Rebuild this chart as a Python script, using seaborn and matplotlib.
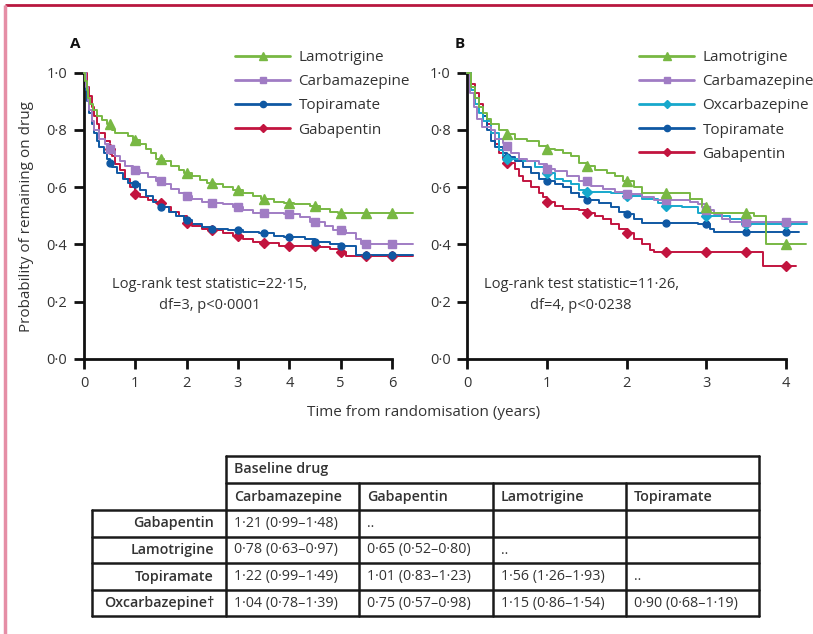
import numpy as np
import matplotlib
matplotlib.use("Agg")
import matplotlib.pyplot as plt
from matplotlib.lines import Line2D
import seaborn as sns
import pandas as pd

sns.set_theme(style="white")
plt.rcParams['font.family'] = ['Open Sans', 'DejaVu Sans']

# ---------------- data: panel A ----------------
a_lam_t = [0, 0.02, 0.05, 0.08, 0.12, 0.18, 0.25, 0.35, 0.45, 0.55, 0.6, 0.85, 0.95, 1.1, 1.2, 1.3, 1.4, 1.55, 1.7, 1.85, 1.95, 2.1, 2.25, 2.4, 2.55, 2.7, 2.9, 3.1, 3.3, 3.45, 3.7, 3.9, 4.1, 4.4, 4.6, 4.8, 4.95, 6.4]
a_lam_s = [1.0, 0.97, 0.94, 0.91, 0.89, 0.87, 0.85, 0.835, 0.82, 0.80, 0.79, 0.78, 0.765, 0.75, 0.735, 0.72, 0.70, 0.69, 0.675, 0.66, 0.65, 0.64, 0.625, 0.615, 0.61, 0.60, 0.59, 0.58, 0.57, 0.56, 0.55, 0.545, 0.54, 0.535, 0.525, 0.515, 0.51, 0.51]

a_carb_t = [0, 0.03, 0.07, 0.1, 0.15, 0.2, 0.3, 0.4, 0.5, 0.6, 0.7, 0.8, 0.95, 1.1, 1.25, 1.4, 1.55, 1.7, 1.85, 1.95, 2.1, 2.3, 2.5, 2.7, 2.9, 3.1, 3.3, 3.9, 4.2, 4.4, 4.7, 4.85, 5.1, 5.3, 5.4, 6.4]
a_carb_s = [1.0, 0.95, 0.90, 0.87, 0.83, 0.80, 0.77, 0.75, 0.735, 0.71, 0.69, 0.675, 0.66, 0.65, 0.635, 0.62, 0.61, 0.595, 0.58, 0.57, 0.56, 0.55, 0.545, 0.54, 0.53, 0.52, 0.51, 0.505, 0.495, 0.48, 0.465, 0.45, 0.44, 0.42, 0.40, 0.40]

a_top_t = [0, 0.03, 0.06, 0.1, 0.15, 0.2, 0.25, 0.3, 0.38, 0.45, 0.5, 0.55, 0.65, 0.75, 0.85, 1.0, 1.1, 1.2, 1.35, 1.5, 1.65, 1.8, 1.95, 2.1, 2.3, 2.5, 2.8, 3.1, 3.4, 3.7, 3.9, 4.3, 4.5, 4.8, 5.0, 5.3, 6.4]
a_top_s = [1.0, 0.94, 0.90, 0.86, 0.82, 0.79, 0.76, 0.74, 0.72, 0.70, 0.685, 0.67, 0.65, 0.63, 0.615, 0.61, 0.59, 0.57, 0.55, 0.53, 0.515, 0.50, 0.485, 0.47, 0.46, 0.455, 0.45, 0.445, 0.44, 0.43, 0.425, 0.42, 0.41, 0.40, 0.395, 0.365, 0.365]

a_gab_t = [0, 0.05, 0.1, 0.15, 0.2, 0.25, 0.3, 0.4, 0.5, 0.55, 0.6, 0.7, 0.8, 0.9, 1.0, 1.1, 1.25, 1.4, 1.55, 1.7, 1.85, 2.0, 2.1, 2.3, 2.5, 2.7, 2.9, 3.1, 3.3, 3.5, 3.8, 4.2, 4.6, 4.8, 5.0, 5.1, 6.4]
a_gab_s = [1.0, 0.95, 0.92, 0.88, 0.85, 0.82, 0.79, 0.76, 0.735, 0.71, 0.68, 0.66, 0.63, 0.60, 0.575, 0.565, 0.555, 0.545, 0.53, 0.515, 0.50, 0.475, 0.465, 0.455, 0.45, 0.44, 0.43, 0.42, 0.41, 0.405, 0.395, 0.393, 0.39, 0.385, 0.375, 0.36, 0.36]

# ---------------- data: panel B ----------------
b_lam_t = [0, 0.05, 0.1, 0.15, 0.2, 0.25, 0.3, 0.4, 0.5, 0.6, 0.75, 0.9, 1.0, 1.1, 1.2, 1.3, 1.4, 1.5, 1.6, 1.75, 1.85, 1.95, 2.1, 2.2, 2.8, 2.95, 3.05, 3.6, 3.75, 4.25]
b_lam_s = [1.0, 0.95, 0.91, 0.88, 0.86, 0.84, 0.82, 0.80, 0.785, 0.77, 0.76, 0.745, 0.735, 0.73, 0.72, 0.71, 0.685, 0.675, 0.66, 0.65, 0.64, 0.62, 0.60, 0.58, 0.56, 0.53, 0.51, 0.50, 0.40, 0.40]

b_carb_t = [0, 0.04, 0.08, 0.12, 0.18, 0.3, 0.35, 0.45, 0.5, 0.55, 0.65, 0.75, 0.9, 1.0, 1.1, 1.25, 1.4, 1.55, 1.7, 1.85, 2.0, 2.2, 2.35, 2.8, 2.9, 3.0, 3.1, 3.2, 3.3, 4.27]
b_carb_s = [1.0, 0.93, 0.88, 0.84, 0.81, 0.80, 0.77, 0.755, 0.745, 0.72, 0.70, 0.69, 0.68, 0.665, 0.655, 0.64, 0.62, 0.605, 0.595, 0.585, 0.575, 0.565, 0.555, 0.55, 0.54, 0.52, 0.505, 0.49, 0.48, 0.48]

b_oxc_t = [0, 0.05, 0.1, 0.15, 0.2, 0.3, 0.4, 0.45, 0.5, 0.7, 0.85, 1.0, 1.1, 1.2, 1.3, 1.4, 1.5, 1.8, 2.0, 2.2, 2.4, 2.5, 2.7, 2.9, 3.0, 3.3, 3.45, 4.27]
b_oxc_s = [1.0, 0.94, 0.89, 0.86, 0.83, 0.79, 0.73, 0.71, 0.70, 0.69, 0.67, 0.65, 0.63, 0.62, 0.61, 0.59, 0.585, 0.58, 0.57, 0.56, 0.545, 0.535, 0.53, 0.51, 0.50, 0.49, 0.47, 0.47]

b_top_t = [0, 0.05, 0.1, 0.15, 0.2, 0.25, 0.3, 0.35, 0.45, 0.5, 0.6, 0.7, 0.8, 0.9, 1.0, 1.1, 1.2, 1.3, 1.4, 1.5, 1.65, 1.8, 1.9, 2.0, 2.1, 2.2, 2.9, 3.05, 3.1, 4.17]
b_top_s = [1.0, 0.95, 0.91, 0.88, 0.85, 0.80, 0.76, 0.74, 0.72, 0.705, 0.69, 0.67, 0.65, 0.63, 0.62, 0.61, 0.60, 0.58, 0.565, 0.555, 0.545, 0.53, 0.515, 0.505, 0.49, 0.475, 0.47, 0.455, 0.445, 0.445]

b_gab_t = [0, 0.05, 0.1, 0.15, 0.2, 0.25, 0.3, 0.35, 0.4, 0.45, 0.5, 0.6, 0.65, 0.7, 0.8, 0.9, 0.95, 1.0, 1.1, 1.2, 1.4, 1.5, 1.6, 1.7, 1.8, 1.9, 2.0, 2.1, 2.2, 2.3, 2.35, 3.72, 4.13]
b_gab_s = [1.0, 0.96, 0.93, 0.89, 0.85, 0.82, 0.79, 0.75, 0.72, 0.70, 0.685, 0.665, 0.64, 0.62, 0.60, 0.58, 0.565, 0.55, 0.535, 0.525, 0.52, 0.51, 0.50, 0.49, 0.47, 0.455, 0.44, 0.42, 0.40, 0.38, 0.375, 0.325, 0.325]

a_marker_times = [0.5, 1, 1.5, 2, 2.5, 3, 3.5, 4, 4.5, 5, 5.5, 6]
b_marker_times = [0.5, 1, 1.5, 2, 2.5, 3, 3.5, 4]

# ---------------- table data ----------------
table_title = "Baseline drug"
col_labels = ["Carbamazepine", "Gabapentin", "Lamotrigine", "Topiramate"]
row_labels = ["Gabapentin", "Lamotrigine", "Topiramate", "Oxcarbazepine\u2020"]
cell_text = [
    ["1\u00b721 (0\u00b799\u20131\u00b748)", "..", "", ""],
    ["0\u00b778 (0\u00b763\u20130\u00b797)", "0\u00b765 (0\u00b752\u20130\u00b780)", "..", ""],
    ["1\u00b722 (0\u00b799\u20131\u00b749)", "1\u00b701 (0\u00b783\u20131\u00b723)", "1\u00b756 (1\u00b726\u20131\u00b793)", ".."],
    ["1\u00b704 (0\u00b778\u20131\u00b739)", "0\u00b775 (0\u00b757\u20130\u00b798)", "1\u00b715 (0\u00b786\u20131\u00b754)", "0\u00b790 (0\u00b768\u20131\u00b719)"],
]

ytick_vals = [0, 0.2, 0.4, 0.6, 0.8, 1.0]
ytick_labels = ["0\u00b70", "0\u00b72", "0\u00b74", "0\u00b76", "0\u00b78", "1\u00b70"]

# ---------------- styles ----------------
C_LAM = "#78b843"
C_CARB = "#a07cc4"
C_OXC = "#17a8cc"
C_TOP = "#0f58a3"
C_GAB = "#c2143f"
TXT = "#333333"

series_A = [
    ("Lamotrigine", a_lam_t, a_lam_s, C_LAM, "^"),
    ("Carbamazepine", a_carb_t, a_carb_s, C_CARB, "s"),
    ("Topiramate", a_top_t, a_top_s, C_TOP, "o"),
    ("Gabapentin", a_gab_t, a_gab_s, C_GAB, "D"),
]
series_B = [
    ("Lamotrigine", b_lam_t, b_lam_s, C_LAM, "^"),
    ("Carbamazepine", b_carb_t, b_carb_s, C_CARB, "s"),
    ("Oxcarbazepine", b_oxc_t, b_oxc_s, C_OXC, "D"),
    ("Topiramate", b_top_t, b_top_s, C_TOP, "o"),
    ("Gabapentin", b_gab_t, b_gab_s, C_GAB, "D"),
]
msize = {"^": 6.5, "s": 5.2, "o": 5.0, "D": 4.6}

W, H = 813, 634
fig = plt.figure(figsize=(W / 100, H / 100), dpi=100)


def fx(px):
    return px / W


def fy(py):
    return 1 - py / H


def step_value(t, s, q):
    t = np.asarray(t); s = np.asarray(s)
    idx = np.searchsorted(t, q, side="right") - 1
    return s[idx]


def draw_panel(ax, series, mtimes, xmax, xticks, label, legend_x, ann_text, ann_x):
    for name, t, s, col, mk in series[::-1]:
        df = pd.DataFrame({"t": t, "s": s})
        sns.lineplot(data=df, x="t", y="s", ax=ax, color=col, lw=1.4,
                     drawstyle="steps-post", clip_on=False, sort=False,
                     estimator=None, zorder=3)
        mv = step_value(t, s, mtimes)
        ax.plot(mtimes, mv, ls="none", marker=mk, ms=msize[mk], color=col,
                mec=col, clip_on=False, zorder=4)
    ax.set_xlim(0, xmax)
    ax.set_ylim(0, 1)
    ax.set_xticks(xticks)
    ax.set_xticklabels([str(v) for v in xticks])
    ax.set_yticks(ytick_vals)
    ax.set_yticklabels(ytick_labels)
    ax.set_xlabel("")
    ax.set_ylabel("")
    for sp in ["top", "right"]:
        ax.spines[sp].set_visible(False)
    for sp in ["left", "bottom"]:
        ax.spines[sp].set_color("#111111")
        ax.spines[sp].set_linewidth(2)
    ax.tick_params(axis="both", direction="out", length=7, width=2,
                   color="#111111", labelsize=10.5, labelcolor=TXT, pad=5,
                   left=True, bottom=True)
    handles = [Line2D([], [], color=c, lw=2.0, marker=m, ms=msize[m] * 0.9)
               for _, _, _, c, m in series]
    labels = [n for n, _, _, _, _ in series]
    ax.legend(handles, labels, loc="upper left",
              bbox_to_anchor=(fx(legend_x), fy(50)), bbox_transform=fig.transFigure,
              frameon=False, fontsize=11, handlelength=3.6, handletextpad=0.55,
              labelspacing=0.6, borderpad=0, borderaxespad=0, labelcolor=TXT)
    fig.text(fx(ann_x), fy(295), ann_text, ha="center", va="center",
             multialignment="center", fontsize=10.5, color=TXT, linespacing=1.5)
    fig.text(fx(label[1]), fy(44), label[0], ha="center", va="center",
             fontsize=11, fontweight="bold", color="#111111")


axA = fig.add_axes([fx(84), fy(359), (392 - 84) / W, (359 - 72.7) / H])
axB = fig.add_axes([fx(467.3), fy(359), (785.7 - 467.3) / W, (359 - 72.7) / H])

draw_panel(axA, series_A, a_marker_times, 6, [0, 1, 2, 3, 4, 5, 6], ("A", 75), 235,
           "Log-rank test statistic=22\u00b715,\ndf=3, p<0\u00b70001", 210)
draw_panel(axB, series_B, b_marker_times, 4, [0, 1, 2, 3, 4], ("B", 460), 639,
           "Log-rank test statistic=11\u00b726,\ndf=4, p<0\u00b70238", 581)

fig.text(fx(27), fy(217), "Probability of remaining on drug", rotation=90,
         ha="center", va="center", fontsize=11, color=TXT)
fig.text(fx(424), fy(413), "Time from randomisation (years)", ha="center",
         va="center", fontsize=11, color=TXT)

# ---------------- overlay: frame + table ----------------
ov = fig.add_axes([0, 0, 1, 1], facecolor="none")
ov.set_xlim(0, W)
ov.set_ylim(H, 0)
ov.axis("off")

ov.plot([5, W], [5, 5], color="#b8173f", lw=2, solid_capstyle="butt")
ov.plot([5, 5], [5, H], color="#e58ea6", lw=2.5, solid_capstyle="butt")

col_x = [92, 226, 359, 493, 626, 759]
row_y = [456, 483, 510, 537, 563, 590, 616]
LC = "#1a1a1a"
LW = 1.8
ov.plot([col_x[1], col_x[-1]], [row_y[0]] * 2, color=LC, lw=LW)
ov.plot([col_x[1], col_x[-1]], [row_y[1]] * 2, color=LC, lw=LW)
for yy in row_y[2:]:
    ov.plot([col_x[0], col_x[-1]], [yy, yy], color=LC, lw=LW)
ov.plot([col_x[0]] * 2, [row_y[2], row_y[-1]], color=LC, lw=LW)
ov.plot([col_x[1]] * 2, [row_y[0], row_y[-1]], color=LC, lw=LW)
for xx in col_x[2:5]:
    ov.plot([xx, xx], [row_y[1], row_y[-1]], color=LC, lw=LW)
ov.plot([col_x[-1]] * 2, [row_y[0], row_y[-1]], color=LC, lw=LW)

TFS = 10.3
ov.text(col_x[1] + 8, (row_y[0] + row_y[1]) / 2, table_title, ha="left", va="center",
        fontsize=TFS, fontweight="semibold", color=TXT)
for j, lab in enumerate(col_labels):
    ov.text(col_x[j + 1] + 8, (row_y[1] + row_y[2]) / 2, lab, ha="left", va="center",
            fontsize=TFS, fontweight="semibold", color=TXT)
for i, lab in enumerate(row_labels):
    yc = (row_y[i + 2] + row_y[i + 3]) / 2
    ov.text(col_x[1] - 12, yc, lab, ha="right", va="center", fontsize=TFS,
            fontweight="semibold", color=TXT)
    for j, val in enumerate(cell_text[i]):
        if val:
            ov.text(col_x[j + 1] + 8, yc, val, ha="left", va="center",
                    fontsize=TFS, color=TXT)

fig.savefig("out.png", dpi=100)
